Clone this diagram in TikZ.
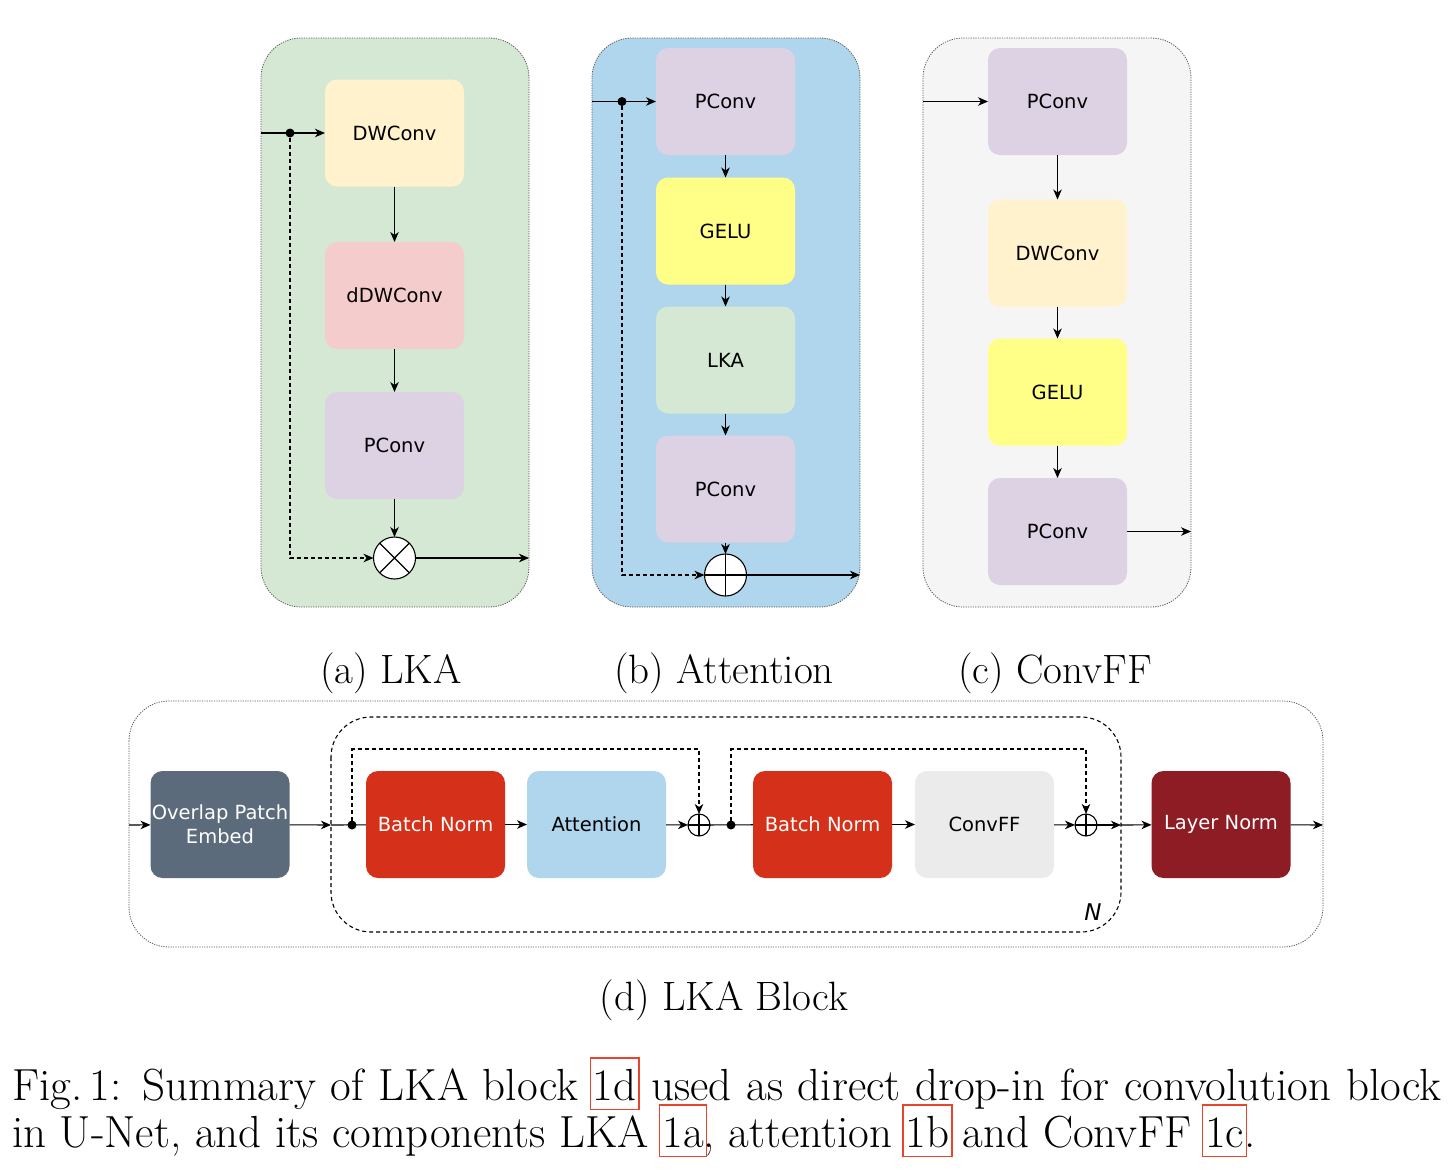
\documentclass[tikz,border=0pt]{standalone}
\usepackage{fontspec}
\newfontfamily\dv{DejaVu Sans}
\usetikzlibrary{arrows.meta,calc}
\definecolor{pgreen}{HTML}{D5E8D4}
\definecolor{pblue}{HTML}{AFD6EC}
\definecolor{pgray}{HTML}{F5F5F5}
\definecolor{cyell}{HTML}{FFF2CC}
\definecolor{cpink}{HTML}{F4CCCC}
\definecolor{cviol}{HTML}{DDD1E4}
\definecolor{cgelu}{HTML}{FFFF88}
\definecolor{cslate}{HTML}{5C6B7B}
\definecolor{cbn}{HTML}{D5301A}
\definecolor{ccff}{HTML}{EBEBEB}
\definecolor{cln}{HTML}{8E1C25}
\definecolor{boxred}{HTML}{E8452C}
\newcommand\rb[1]{{\setlength\fboxsep{0pt}\setlength\fboxrule{1.2pt}\makebox[0pt][l]{\kern-3.2pt\textcolor{boxred}{\fbox{\rule[-0.2em]{0pt}{1.12em}\kern2pt\phantom{#1}\kern2pt}}}#1}}
\begin{document}
\begin{tikzpicture}[x=1pt,y=-1pt,
  blk/.style={rounded corners=12pt, minimum width=139pt, minimum height=107pt, inner sep=0pt, outer sep=0pt, font=\dv\fontsize{19.5}{24}\selectfont, align=center},
  tip/.style={-{Stealth[length=10pt,width=8.5pt,inset=3pt]}},
  conn/.style={line width=1.1pt, tip},
  plainln/.style={line width=1.1pt},
  skipln/.style={line width=1.1pt, dash pattern=on 4pt off 3pt},
  panel/.style={rounded corners=40pt, draw=black!65, line width=0.8pt, dash pattern=on 1.2pt off 1.2pt},
  jdot/.style={circle, fill=black, minimum size=9pt, inner sep=0pt, outer sep=0pt},
  opc/.style={circle, draw, fill=white, minimum size=42pt, inner sep=0pt, outer sep=0pt, line width=1.1pt},
  opcs/.style={circle, draw, fill=white, minimum size=22pt, inner sep=0pt, outer sep=0pt, line width=1.1pt},
  sublab/.style={anchor=base, font=\fontsize{41}{48}\selectfont}
]
\useasboundingbox (0,0) rectangle (1454,1170);
% ---------- panels ----------
\draw[panel, fill=pgreen] (261,38) rectangle (529,607);
\draw[panel, fill=pblue] (592,38) rectangle (860,607);
\draw[panel, fill=pgray] (923,38) rectangle (1191,607);
% ---------- (a) LKA ----------
\node[blk, fill=cyell] (adw) at (394.5,133) {DWConv};
\node[blk, fill=cpink] (addw) at (394.5,295.5) {dDWConv};
\node[blk, fill=cviol] (apc) at (394.5,445.5) {PConv};
\node[opc] (amul) at (394.5,558) {};
\draw[line width=1.1pt] (amul.north east) -- (amul.south west) (amul.north west) -- (amul.south east);
\node[jdot] (ada) at (290,133) {};
\coordinate (ain) at (261,133);
\coordinate (aout) at (529,558);
\draw[conn] (ain) -- (adw);
\draw[conn] (adw) -- (addw);
\draw[conn] (addw) -- (apc);
\draw[conn] (apc) -- (amul);
\draw[skipln, tip] (ada) |- (amul);
\draw[conn] (amul) -- (aout);
% ---------- (b) Attention ----------
\node[blk, fill=cviol] (bp1) at (725.5,101.5) {PConv};
\node[blk, fill=cgelu] (bge) at (725.5,231) {GELU};
\node[blk, fill=pgreen] (blka) at (725.5,360) {LKA};
\node[blk, fill=cviol] (bp2) at (725.5,489) {PConv};
\node[opc] (badd) at (725.5,575) {};
\draw[line width=1.1pt] (badd.north) -- (badd.south) (badd.west) -- (badd.east);
\node[jdot] (bda) at (622,101.5) {};
\coordinate (bin) at (592,101.5);
\coordinate (bout) at (860,575);
\draw[conn] (bin) -- (bp1);
\draw[conn] (bp1) -- (bge);
\draw[conn] (bge) -- (blka);
\draw[conn] (blka) -- (bp2);
\draw[conn] (bp2) -- (badd);
\draw[skipln, tip] (bda) |- (badd);
\draw[conn] (badd) -- (bout);
% ---------- (c) ConvFF ----------
\node[blk, fill=cviol] (cp1) at (1057.5,101.5) {PConv};
\node[blk, fill=cyell] (cdw) at (1057.5,253) {DWConv};
\node[blk, fill=cgelu] (cge) at (1057.5,392) {GELU};
\node[blk, fill=cviol] (cp2) at (1057.5,531.5) {PConv};
\coordinate (cin) at (923,101.5);
\coordinate (cout) at (1191,531.5);
\draw[conn] (cin) -- (cp1);
\draw[conn] (cp1) -- (cdw);
\draw[conn] (cdw) -- (cge);
\draw[conn] (cge) -- (cp2);
\draw[conn] (cp2) -- (cout);
% ---------- sub labels ----------
\node[sublab] (la) at (391,683) {(a) LKA};
\node[sublab] (lb) at (724,683) {(b) Attention};
\node[sublab] (lc) at (1055,683) {(c) ConvFF};
% ---------- (d) LKA block ----------
\draw[panel] (129,701) rectangle (1323,947);
\draw[rounded corners=40pt, line width=1.1pt, dash pattern=on 4pt off 3pt] (331,717) rectangle (1121,932);
\node[blk, fill=cslate, text=white] (ope) at (220,824.5) {Overlap Patch\\Embed};
\node[blk, fill=cbn, text=white] (bn1) at (435.5,824.5) {Batch Norm};
\node[blk, fill=pblue] (att) at (596.5,824.5) {Attention};
\node[opcs] (p1) at (699,825) {};
\draw[line width=1.1pt] (p1.north) -- (p1.south) (p1.west) -- (p1.east);
\node[blk, fill=cbn, text=white] (bn2) at (822.5,824.5) {Batch Norm};
\node[blk, fill=ccff] (cff) at (984.5,824.5) {ConvFF};
\node[opcs] (p2) at (1086,825) {};
\draw[line width=1.1pt] (p2.north) -- (p2.south) (p2.west) -- (p2.east);
\node[blk, fill=cln, text=white] (ln) at (1221,824.5) {Layer Norm};
\node[jdot] (d1) at (352,825) {};
\node[jdot] (d2) at (731,825) {};
\coordinate (din) at (129,825);
\coordinate (il) at (331,825);
\coordinate (ir) at (1121,825);
\coordinate (dout) at (1323,825);
\coordinate (s1) at (699,749);
\coordinate (s2) at (1086,749);
\draw[conn] (din) -- (ope);
\draw[conn] (ope) -- (il);
\draw[plainln] (il) -- (bn1);
\draw[conn] (bn1) -- (att);
\draw[conn] (att) -- (p1);
\draw[plainln] (p1) -- (bn2);
\draw[conn] (bn2) -- (cff);
\draw[conn] (cff) -- (p2);
\draw[conn] (p2) -- (ir);
\draw[conn] (ir) -- (ln);
\draw[conn] (ln) -- (dout);
\draw[skipln, tip] (d1) |- (s1) -- (p1);
\draw[skipln, tip] (d2) |- (s2) -- (p2);
\node[font=\dv\itshape\fontsize{23}{26}\selectfont] (nlab) at (1093,912) {N};
\node[sublab] (ld) at (724,1010) {(d) LKA Block};
% ---------- caption ----------
\node[anchor=base west, inner sep=0pt, font=\fontsize{45}{54}\selectfont] (cap1) at (12,1100) {\makebox[1429pt][s]{Fig.\,1: Summary of LKA block \rb{1d} used as direct drop-in for convolution block}};
\node[anchor=base west, inner sep=0pt, font=\fontsize{45}{54}\selectfont] (cap2) at (12,1147) {in U-Net, and its components LKA \rb{1a}, attention \rb{1b} and ConvFF \rb{1c}.};
\end{tikzpicture}
\end{document}
